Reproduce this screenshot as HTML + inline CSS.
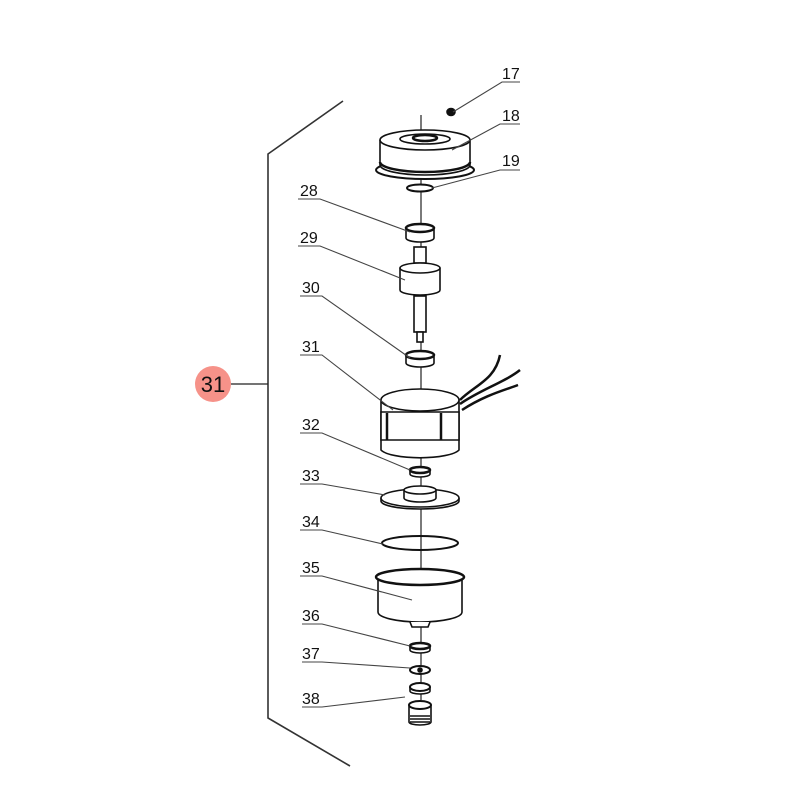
<!DOCTYPE html>
<html><head><meta charset="utf-8"><style>
html,body{margin:0;padding:0;background:#fff;}
svg{display:block;}
text{font-family:"Liberation Sans",sans-serif;font-size:16px;fill:#111;}
</style></head><body>
<svg width="800" height="800" viewBox="0 0 800 800" xmlns="http://www.w3.org/2000/svg">
<g stroke="#222" stroke-width="1.3" fill="none">
<!-- bracket -->
<polyline points="343,101 268,154 268,718 350,766" stroke="#333" stroke-width="1.6"/>
<line x1="231" y1="384" x2="268" y2="384"/>
<!-- axis -->
<line x1="421" y1="115" x2="421" y2="700" stroke-width="1.2"/>
</g>
<circle cx="213" cy="384" r="18" fill="#f69289"/>
<text x="213" y="392" text-anchor="middle" style="font-size:22px">31</text>

<!-- parts -->
<g stroke="#111" stroke-width="1.6" fill="#fff">
<!-- 17 -->
<ellipse cx="451" cy="112" rx="4" ry="3.5" fill="#111"/>
<!-- 18 -->
<path d="M376,170 a49,9 0 0 0 98,0 a49,9 0 0 0 -98,0 z" stroke-width="2"/>
<path d="M380,140 L380,165 A45,10 0 0 0 470,165 L470,140" />
<ellipse cx="425" cy="140" rx="45" ry="10"/>
<ellipse cx="425" cy="139" rx="25" ry="5"/>
<ellipse cx="425" cy="138" rx="12" ry="3" stroke-width="2.5"/>
<path d="M380,162 A45,10 0 0 0 470,162" stroke-width="2.5"/>
<!-- 19 -->
<ellipse cx="420" cy="188" rx="13" ry="3.5" stroke-width="2"/>
<!-- 28 -->
<path d="M406,228 L406,238 A14,4 0 0 0 434,238 L434,228"/>
<ellipse cx="420" cy="228" rx="14" ry="4" stroke-width="2.5"/>
<!-- 29 -->
<rect x="414" y="247" width="12" height="16"/>
<path d="M400,268 L400,290 A20,5 0 0 0 440,290 L440,268"/>
<ellipse cx="420" cy="268" rx="20" ry="5"/>
<rect x="414" y="296" width="12" height="36"/>
<rect x="417" y="332" width="6" height="10"/>
<!-- 30 -->
<path d="M406,355 L406,363 A14,4 0 0 0 434,363 L434,355"/>
<ellipse cx="420" cy="355" rx="14" ry="4" stroke-width="2.5"/>
<!-- wires -->
<path d="M460,400 C475,385 495,380 500,355" fill="none" stroke-width="2.5"/>
<path d="M460,404 C480,390 505,382 520,370" fill="none" stroke-width="2.5"/>
<path d="M462,410 C485,395 505,390 518,385" fill="none" stroke-width="2.5"/>
<!-- 31 motor -->
<path d="M381,400 L381,450 A40,10 0 0 0 459,450 L459,400"/>
<ellipse cx="420" cy="400" rx="39" ry="11"/>
<path d="M381,412 L459,412 L459,440 L381,440 Z"/>
<line x1="387" y1="413" x2="387" y2="440" stroke-width="2.5"/>
<line x1="441" y1="413" x2="441" y2="440" stroke-width="2.5"/>
<!-- 32 -->
<path d="M410,470 L410,474 A10,3 0 0 0 430,474 L430,470"/>
<ellipse cx="420" cy="470" rx="10" ry="3" stroke-width="2.5"/>
<!-- 33 -->
<path d="M381,498 L381,501 A39,8 0 0 0 459,501 L459,498"/>
<ellipse cx="420" cy="498" rx="39" ry="9"/>
<path d="M404,490 L404,498 A16,4 0 0 0 436,498 L436,490"/>
<ellipse cx="420" cy="490" rx="16" ry="4"/>
<!-- 34 -->
<ellipse cx="420" cy="543" rx="38" ry="7" fill="none" stroke-width="2"/>
<!-- 35 -->
<path d="M378,578 L378,612 A42,10 0 0 0 462,612 L462,578"/>
<ellipse cx="420" cy="577" rx="44" ry="8" stroke-width="2.5"/>
<path d="M410,622 L412,627 L428,627 L430,622"/>
<!-- 36 -->
<path d="M410,646 L410,650 A10,3 0 0 0 430,650 L430,646"/>
<ellipse cx="420" cy="646" rx="10" ry="3" stroke-width="2.5"/>
<!-- 37 -->
<ellipse cx="420" cy="670" rx="10" ry="4" stroke-width="2"/>
<circle cx="420" cy="670" r="2" fill="#111"/>
<!-- 38 -->
<path d="M410,687 L410,691 A10,3 0 0 0 430,691 L430,687"/>
<ellipse cx="420" cy="687" rx="10" ry="4" stroke-width="2"/>
<path d="M409,705 L409,722 A11,3 0 0 0 431,722 L431,705"/>
<ellipse cx="420" cy="705" rx="11" ry="4" stroke-width="2"/>
<path d="M410,716 L430,716 M410,719 L430,719 M410,722 L430,722" stroke-width="1.5"/>
</g>

<!-- labels and leaders -->
<g stroke="#444" stroke-width="1.1" fill="none">
<polyline points="520,82 502,82 453,112"/>
<polyline points="520,124 500,124 452,150"/>
<polyline points="520,170 500,170 432,188"/>
<polyline points="298,199 320,199 410,232"/>
<polyline points="298,246 320,246 405,280"/>
<polyline points="300,296 322,296 410,358"/>
<polyline points="300,355 322,355 393,410"/>
<polyline points="300,433 322,433 410,470"/>
<polyline points="300,484 322,484 385,495"/>
<polyline points="300,530 322,530 383,544"/>
<polyline points="300,576 322,576 412,600"/>
<polyline points="302,624 322,624 410,646"/>
<polyline points="302,662 322,662 410,668"/>
<polyline points="302,707 322,707 405,697"/>
</g>
<text x="502" y="79">17</text>
<text x="502" y="121">18</text>
<text x="502" y="166">19</text>
<text x="300" y="196">28</text>
<text x="300" y="243">29</text>
<text x="302" y="293">30</text>
<text x="302" y="352">31</text>
<text x="302" y="430">32</text>
<text x="302" y="481">33</text>
<text x="302" y="527">34</text>
<text x="302" y="573">35</text>
<text x="302" y="621">36</text>
<text x="302" y="659">37</text>
<text x="302" y="704">38</text>
</svg>
</body></html>
